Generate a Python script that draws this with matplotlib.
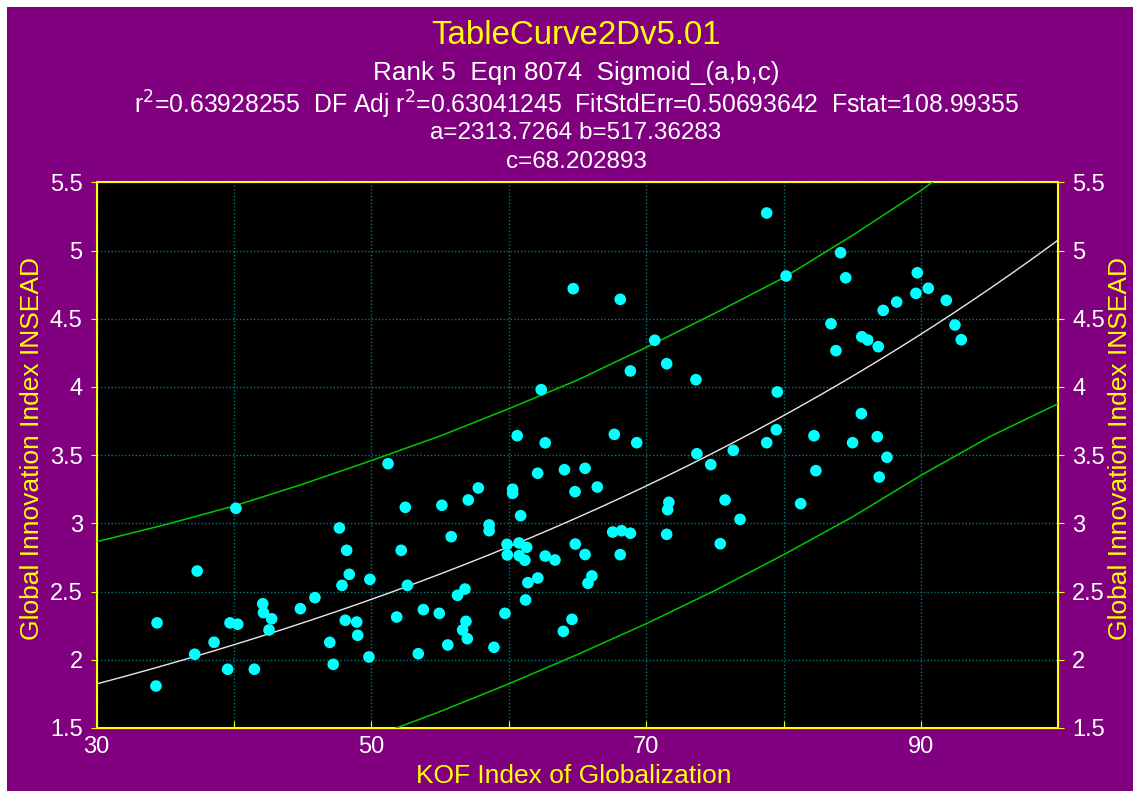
import matplotlib
matplotlib.use("Agg")
import matplotlib.pyplot as plt
from matplotlib.patches import Rectangle
import numpy as np

plt.rcParams['font.family'] = ['Liberation Sans', 'DejaVu Sans']

# ---------------- data ----------------
kof = [
    40.14, 37.32, 42.09, 45.89, 44.83, 42.14, 42.74, 34.40, 39.71, 40.27, 42.55, 38.55,
    37.14, 39.54, 41.48, 34.32, 47.67, 46.97, 47.22,
    62.36, 51.21, 60.61, 62.65, 62.10, 64.05, 64.82, 57.78, 60.28, 60.28, 57.05, 55.13,
    52.47, 60.86, 58.57, 58.57, 55.81, 48.20, 52.17, 59.87, 60.74, 61.30, 59.89, 60.76,
    61.17, 62.65, 63.36, 64.84, 48.39, 47.86, 49.89, 52.62, 56.81, 56.27, 61.39, 62.11,
    61.22, 53.78, 54.94, 51.84, 59.72, 48.10, 48.93, 56.88, 56.64, 56.98, 49.00, 55.56,
    58.92, 49.82, 53.41, 64.60, 63.97,
    64.69, 68.11, 80.18, 70.62, 71.49, 68.85, 73.62, 79.54, 67.68, 69.31, 79.47, 82.21,
    78.77, 76.34, 73.69, 74.70, 82.35, 65.55, 66.44, 71.65, 71.56, 75.74, 81.24, 76.83,
    67.56, 68.21, 68.85, 71.49, 65.55, 68.11, 75.39, 66.05, 65.76,
    84.15, 84.52, 89.73, 90.53, 89.63, 91.84, 88.23, 87.25, 83.45, 92.47, 92.93, 85.69,
    86.12, 86.89, 83.81, 85.66, 86.82, 85.02, 87.52, 86.96, 78.77,
]
gii = [
    3.110, 2.650, 2.410, 2.455, 2.374, 2.345, 2.300, 2.270, 2.270, 2.260, 2.218, 2.128,
    2.040, 1.930, 1.930, 1.807, 2.966, 2.127, 1.966,
    3.980, 3.437, 3.642, 3.590, 3.367, 3.393, 3.232, 3.259, 3.250, 3.220, 3.171, 3.132,
    3.117, 3.056, 2.988, 2.946, 2.902, 2.802, 2.802, 2.846, 2.856, 2.824, 2.768, 2.763,
    2.729, 2.760, 2.731, 2.848, 2.626, 2.545, 2.589, 2.545, 2.518, 2.472, 2.565, 2.599,
    2.438, 2.367, 2.340, 2.313, 2.340, 2.289, 2.276, 2.281, 2.218, 2.154, 2.179, 2.108,
    2.091, 2.020, 2.044, 2.296, 2.208,
    4.720, 4.642, 4.813, 4.342, 4.170, 4.117, 4.053, 3.963, 3.652, 3.591, 3.686, 3.642,
    3.591, 3.535, 3.510, 3.430, 3.386, 3.403, 3.266, 3.154, 3.100, 3.171, 3.144, 3.029,
    2.936, 2.946, 2.927, 2.919, 2.771, 2.770, 2.850, 2.614, 2.560,
    4.984, 4.800, 4.837, 4.723, 4.686, 4.635, 4.622, 4.561, 4.463, 4.454, 4.346, 4.368,
    4.344, 4.295, 4.266, 3.804, 3.635, 3.591, 3.484, 3.339, 5.275,
]

# fitted sigmoid parameters (from the chart header)
a_par, b_par, c_par = 2313.7264, 517.36283, 68.202893

# prediction band
band_x = [30, 35, 40, 45, 50, 55, 60, 65, 70, 75, 80, 85, 90, 95, 100]
band_upper = [2.865, 2.99, 3.127, 3.287, 3.46, 3.64, 3.84, 4.05, 4.29, 4.54, 4.80, 5.11, 5.44, 5.81, 6.2]
band_lower = [0.78, 0.93, 1.09, 1.255, 1.43, 1.62, 1.823, 2.038, 2.264, 2.507, 2.77, 3.046, 3.352, 3.635, 3.878]

title_lines = [
    "TableCurve2Dv5.01",
    "Rank 5  Eqn 8074  Sigmoid_(a,b,c)",
    "r$^2$=0.63928255  DF Adj r$^2$=0.63041245  FitStdErr=0.50693642  Fstat=108.99355",
    "a=2313.7264 b=517.36283",
    "c=68.202893",
]
xlabel = "KOF Index of Globalization"
ylabel = "Global Innovation Index INSEAD"
xticks = [30, 40, 50, 60, 70, 80, 90, 100]
xticklabels = ["30", "", "50", "", "70", "", "90", ""]
yticks = [1.5, 2, 2.5, 3, 3.5, 4, 4.5, 5, 5.5]
yticklabels = ["1.5", "2", "2.5", "3", "3.5", "4", "4.5", "5", "5.5"]

# ---------------- figure ----------------
W, H = 1133, 791
PURPLE = "#800080"
YELLOW = "#FFFF00"
fig = plt.figure(figsize=(W / 100, H / 100), dpi=100)
fig.patch.set_facecolor("white")
fig.add_artist(Rectangle((7 / W, 0), 1, (H - 7) / H, transform=fig.transFigure,
                         facecolor=PURPLE, edgecolor="none", zorder=-10))

left, right, top, bottom = 96.6, 1058.4, 182.3, 727.9
ax = fig.add_axes([left / W, 1 - bottom / H, (right - left) / W, (bottom - top) / H])
ax.set_facecolor("black")
ax.set_xlim(30, 100)
ax.set_ylim(1.5, 5.5)

ax.grid(True, color="#007878", linestyle=(0, (1, 1.5)), linewidth=1.0)
ax.set_axisbelow(True)

xs = np.linspace(30, 100, 300)
fit = a_par / (1 + np.exp(-(xs - b_par) / c_par))
ax.plot(band_x, band_upper, color="#00C800", lw=1.1, zorder=3)
ax.plot(band_x, band_lower, color="#00C800", lw=1.1, zorder=3)
ax.plot(xs, fit, color="#E8E8E8", lw=1.0, zorder=3)
ax.scatter(kof, gii, s=70, color="#00FFFF", edgecolors="none", zorder=4)

for s in ax.spines.values():
    s.set_color(YELLOW)
    s.set_linewidth(1.5)

ax.set_xticks(xticks)
ax.set_xticklabels(xticklabels)
ax.set_yticks(yticks)
ax.set_yticklabels(yticklabels)
ax.tick_params(axis="x", direction="in", length=5, color=YELLOW, labelcolor="white",
               labelsize=17, pad=6)
ax.tick_params(axis="y", direction="out", length=4, color=YELLOW, labelcolor="white",
               labelsize=17, left=True, right=True, labelleft=True, labelright=True, pad=6)

# header text
ys = [35, 73, 105, 133, 162]
sizes = [23.8, 18.8, 17.8, 17.5, 17.5]
colors = [YELLOW, "white", "white", "white", "white"]
for t, y, sz, c in zip(title_lines, ys, sizes, colors):
    fig.text(576 / W, 1 - y / H, t, ha="center", va="center", fontsize=sz, color=c)

fig.text(574 / W, 1 - 776 / H, xlabel, ha="center", va="center", fontsize=19, color=YELLOW)
fig.text(32 / W, 1 - 448 / H, ylabel, ha="center", va="center", rotation=90,
         fontsize=19, color=YELLOW)
fig.text(1120 / W, 1 - 448 / H, ylabel, ha="center", va="center", rotation=90,
         fontsize=19, color=YELLOW)

fig.savefig("out.png", dpi=100, facecolor=fig.get_facecolor())
